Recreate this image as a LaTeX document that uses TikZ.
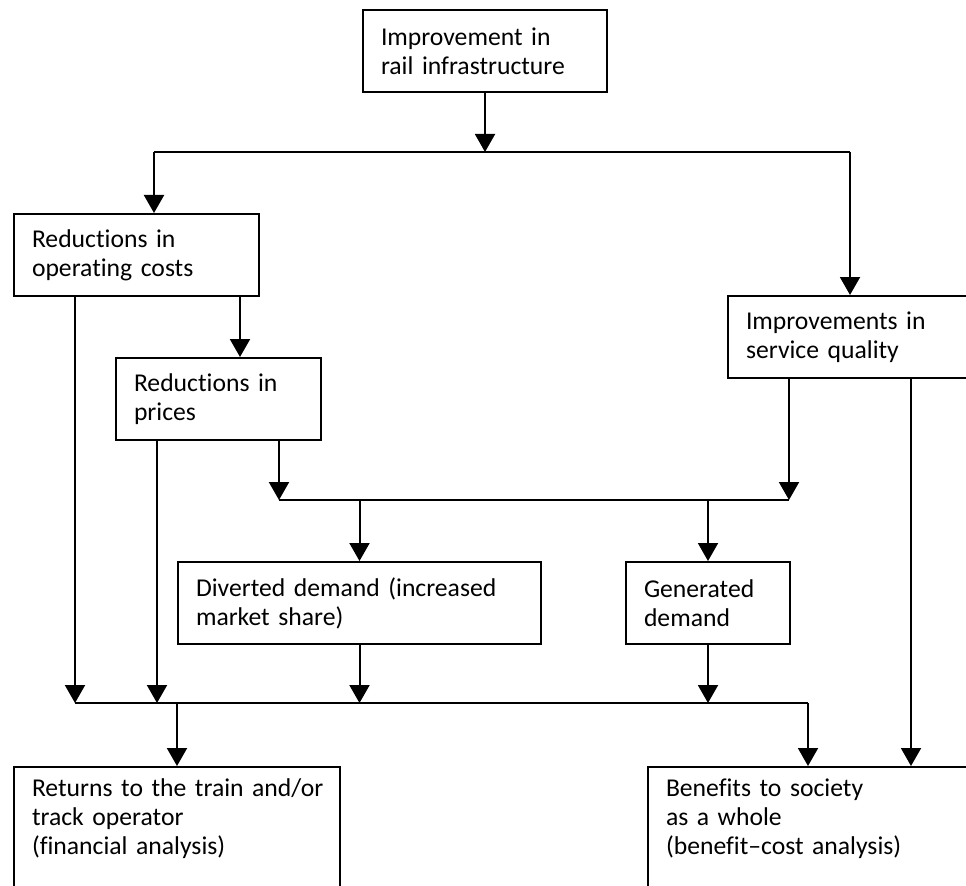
\documentclass[tikz,border=0pt]{standalone}
\usepackage{fontspec}
\setmainfont{Carlito}[Ligatures=NoCommon]
\usetikzlibrary{arrows.meta}

\begin{document}
\begin{tikzpicture}[
		scale=1,
		line width=0.04cm,
		every node/.style={rectangle, draw, anchor=north west, align=left, inner xsep=0.36cm, minimum height=1.64cm, font=\fontsize{14.6}{16.5}\selectfont},
		open box/.style={minimum height=0cm, inner ysep=0.23cm, text depth=3cm},
		arrow/.style={-{Triangle[width=0.4cm, length=0.36cm]}}
	]
  \clip (0cm, 0cm) rectangle (19.32cm, -17.7cm);
  \node (infra) [minimum width=4.88cm, text width=4.16cm] at (7.24cm, -0.18cm) {Improvement in\\rail infrastructure};
  \node (opcost) [minimum width=4.90cm, text width=4.18cm] at (0.26cm, -4.26cm) {Reductions in\\operating costs};
  \node (prices) [minimum width=4.10cm, text width=3.38cm] at (2.30cm, -7.14cm) {Reductions in\\prices};
  \node (service) [minimum width=5.40cm, text width=4.68cm] at (14.54cm, -5.90cm) {Improvements in\\service quality};
  \node (diverted) [minimum width=7.26cm, text width=6.54cm] at (3.54cm, -11.22cm) {Diverted demand (increased\\market share)};
  \node (generated) [minimum width=3.28cm, text width=2.56cm] at (12.50cm, -11.22cm) {Generated\\demand};
  \node (returns) [open box, minimum width=6.52cm, text width=5.80cm] at (0.26cm, -15.32cm) {\mbox{Returns to the train and/or}\\track operator\\(financial analysis)};
  \node (benefits) [open box, minimum width=7.00cm, text width=6.28cm] at (12.94cm, -15.32cm) {Benefits to society\\as a whole\\(benefit--cost analysis)};
  \coordinate (top_l) at (3.08cm, -3.04cm);
  \coordinate (top_r) at (17.00cm, -3.04cm);
  \coordinate (mid_l) at (5.58cm, -10.00cm);
  \coordinate (mid_r) at (15.78cm, -10.00cm);
  \coordinate (low_l) at (1.50cm, -14.06cm);
  \coordinate (low_r) at (16.16cm, -14.06cm);
  \draw [arrow] (infra.south) -- (infra.south |- top_l);
  \draw (top_l) -- (top_r);
  \draw [arrow] (top_l) -- (top_l |- opcost.north);
  \draw [arrow] (top_r) -- (top_r |- service.north);
  \draw [arrow] (opcost.south -| low_l) -- (low_l);
  \draw [arrow] ([xshift=-0.4cm]opcost.south east) -- ([xshift=-0.4cm]opcost.south east |- prices.north);
  \draw [arrow] ([xshift=0.84cm]prices.south west) -- ([xshift=0.84cm]prices.south west |- low_l);
  \draw [arrow] (prices.south -| mid_l) -- (mid_l);
  \draw [arrow] (service.south -| mid_r) -- (mid_r);
  \draw [arrow] ([xshift=3.68cm]service.south west) -- ([xshift=3.68cm]service.south west |- benefits.north);
  \draw (mid_l) -- (mid_r);
  \draw [arrow] (diverted.north |- mid_l) -- (diverted.north);
  \draw [arrow] (generated.north |- mid_l) -- (generated.north);
  \draw [arrow] (diverted.south) -- (diverted.south |- low_l);
  \draw [arrow] (generated.south) -- (generated.south |- low_l);
  \draw (low_l) -- (low_r);
  \draw [arrow] (returns.north |- low_l) -- (returns.north);
  \draw [arrow] (low_r) -- (low_r |- benefits.north);
\end{tikzpicture}
\end{document}
